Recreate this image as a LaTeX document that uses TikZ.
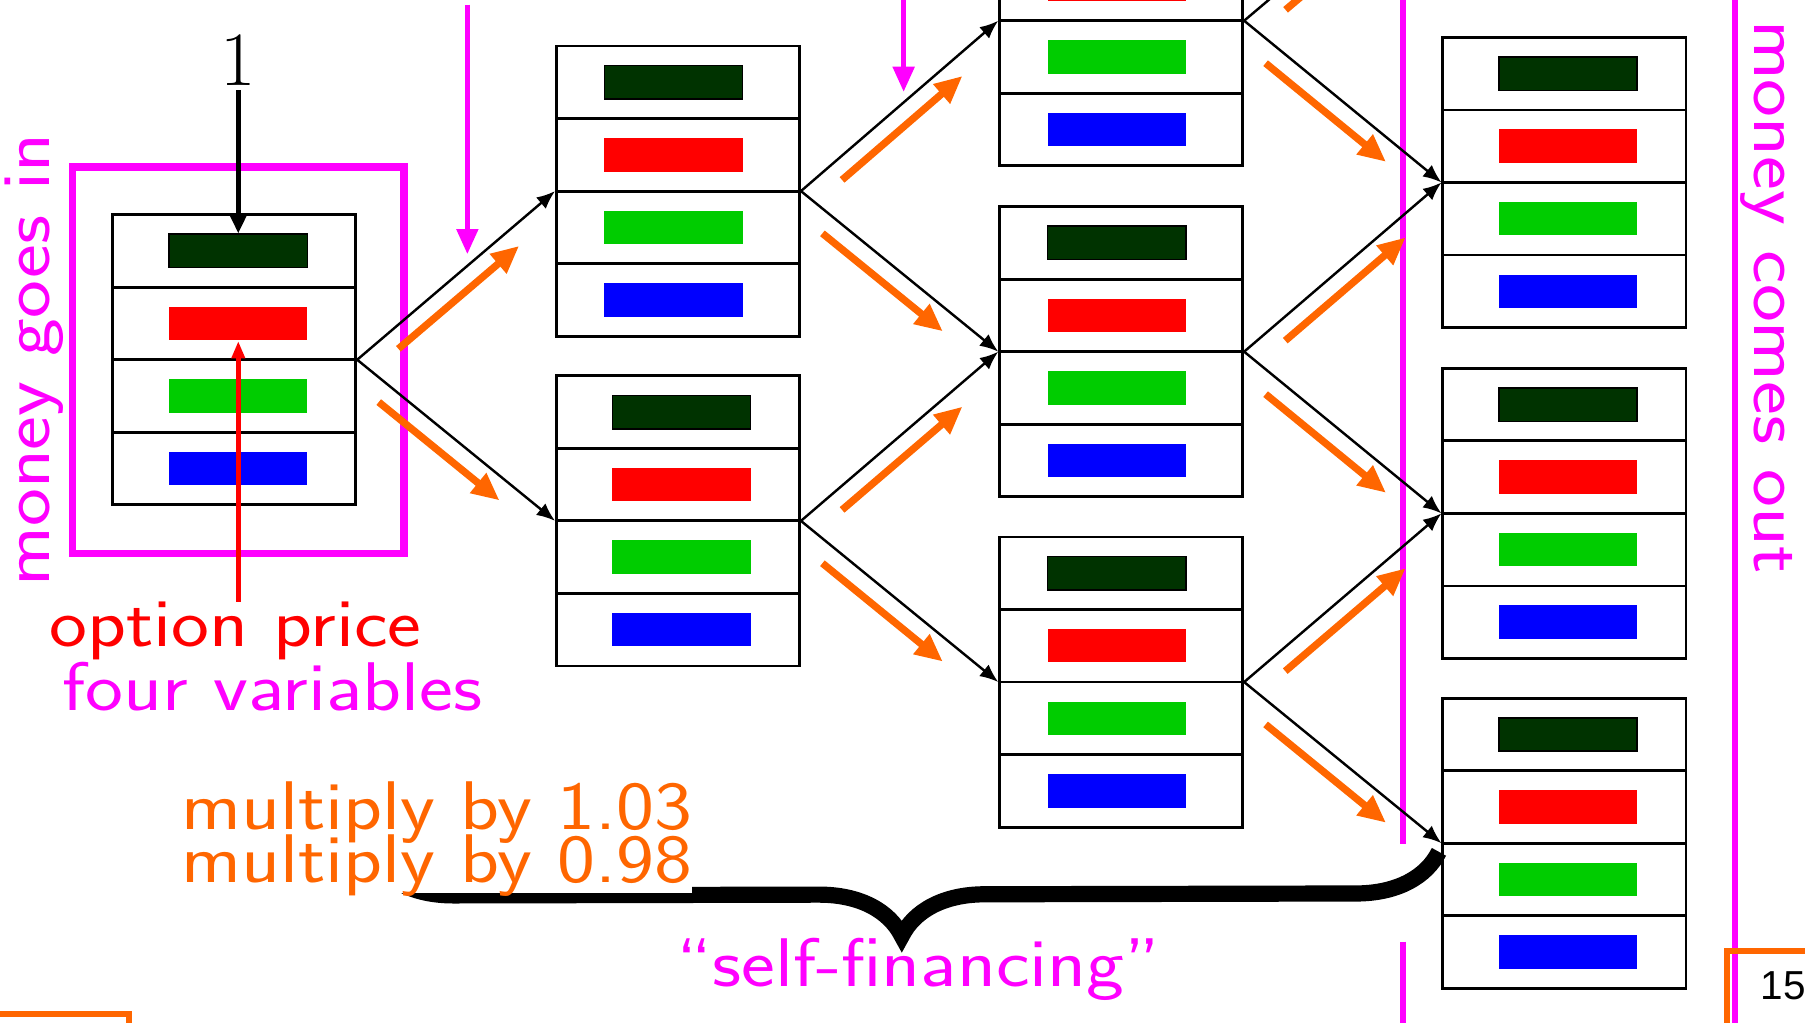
\documentclass[tikz,border=0pt]{standalone}
\usepackage{fontspec}
\usepackage{tikz}
\usetikzlibrary{
    calc,
    arrows.meta,
    decorations.pathreplacing
}
\newfontfamily\slidefont{Latin Modern Sans}[FakeStretch=1.17, Ligatures=TeX]
\newfontfamily\pagefont{Liberation Sans}
\definecolor{mag}{RGB}{255,0,255}
\definecolor{orng}{RGB}{255,102,0}
\definecolor{dkgreen}{RGB}{0,51,0}
\definecolor{midgreen}{RGB}{0,204,0}
\tikzset{% one portfolio: four holdings stacked in a box
    holding/.style={minimum width=1.2cm, minimum height=0.29cm, inner sep=0pt},
    pics/portfolio/.style={code={
        \node[draw, line width=0.7pt, minimum width=2.11cm, minimum height=2.52cm, inner sep=0pt] (-box) at (0,0) {};
        \foreach \r in {-63,0,63}
            \draw[line width=0.7pt] (-105.5,\r) -- (105.5,\r);
        \node[holding, fill=dkgreen, draw=black, line width=0.4pt] (-b1) at (#1,-94.5) {};
        \node[holding, fill=red] (-b2) at (#1,-31.5) {};
        \node[holding, fill=midgreen] (-b3) at (#1,31.5) {};
        \node[holding, fill=blue] (-b4) at (#1,94.5) {};
    }},
    pics/portfolio/.default=0
}

\begin{document}
\begin{tikzpicture}[
            x=0.01cm, y=-0.01cm,
            branch/.style={line width=0.6pt, -{Latex[length=1.6mm, width=1.3mm]}},
            drift/.style={draw=orng, line width=1.8pt, -{Triangle[length=2.4mm, width=2.1mm]}},
            inflow/.style={draw=mag, line width=1.4pt, -{Triangle[length=2.2mm, width=1.8mm]}},
            divider/.style={draw=mag, line width=1.6pt},
            words/.style={font=\slidefont\fontsize{17}{20}\selectfont, inner sep=0pt},
            slideframe/.style={draw=orng, line width=1.5pt}
        ]
        \useasboundingbox (0,0) rectangle (1568,888);

        \draw[draw=mag, line width=1.8pt] (63,145) rectangle (351,481);
        \draw[divider] (1219,-5) -- (1219,733);
        \draw[divider] (1219,818) -- (1219,893);
        \draw[divider] (1507,-5) -- (1507,893);

        \foreach \n/\x/\y/\d in {p0/203.5/312.5/3.5, q1/589/166/-4, q2/589/452.5/3,
                r1/974/18/-4, r2/974/305.5/-4, r3/974/592.5/-4,
                s1/1359/158.5/3, s2/1359/446/3, s3/1359/732.5/3}
            \pic (\n) at (\x,\y) {portfolio=\d};
        \coordinate (s0) at (1254,-128.5);

        % the tree of trading dates
        \foreach \a/\b in {p0/q1, p0/q2, q1/r1, q1/r2, q2/r2, q2/r3, r1/s1, r2/s1, r2/s2, r3/s2, r3/s3}
            \draw[branch] (\a-box.east) -- (\b-box.west);
        \draw[branch] (r1-box.east) -- (s0);

        \foreach \a/\b in {p0/q1, q1/r1, q2/r2, r2/s1, r3/s2}
            \draw[drift] ($(\a-box.east)!0.15!(\b-box.west)+(10,12.5)$) -- ($(\a-box.east)!0.76!(\b-box.west)+(10,12.5)$);
        \draw[drift] ($(r1-box.east)!0.15!(s0)+(10,12.5)$) -- ($(r1-box.east)!0.76!(s0)+(10,12.5)$);
        \foreach \a/\b in {p0/q2, q1/r2, q2/r3, r1/s1, r2/s2, r3/s3}
            \draw[drift] ($(\a-box.east)!0.17!(\b-box.west)+(-10.5,13)$) -- ($(\a-box.east)!0.78!(\b-box.west)+(-10.5,13)$);

        \coordinate (in1) at (406,4);
        \coordinate (in1e) at (406,221);
        \coordinate (in2) at (785,-5);
        \coordinate (in2e) at (785,80);
        \draw[inflow] (in1) -- (in1e);
        \draw[inflow] (in2) -- (in2e);

        \node[font=\rmfamily\fontsize{19}{22}\selectfont, inner sep=1pt, anchor=base] (one) at (207,74) {1};
        \draw[line width=1.1pt, -{Triangle[length=1.6mm, width=1.4mm]}] (one.south) -- (p0-b1.north);

        \node[words, text=red, anchor=base] (oprice) at (204.5,562) {option price};
        \node[words, text=mag, anchor=base] (fourvar) at (236.5,617) {four variables};
        \draw[red, line width=1.1pt, -{Triangle[length=1.5mm, width=1.1mm]}] (p0-b2.south |- oprice.north) -- (p0-b2.south);

        \node[words, text=mag, rotate=90, anchor=base] (goesin) at (43,313) {money goes in};
        \node[words, text=mag, rotate=-90, anchor=base] (comesout) at (1524,258) {money comes out};

        \draw[line width=4pt, decorate, decoration={brace, amplitude=0.72cm, aspect=0.503}] (1250,740) -- (322,742);
        \node[words, text=orng, fill=white, text depth=0.09cm, anchor=base west] (mult2) at (157,767) {multiply by 0.98};
        \node[words, text=orng, anchor=base west] (mult1) at (157,721) {multiply by 1.03};
        \node[words, text=mag, anchor=base] (selffin) at (798,857) {``self-financing''};

        \draw[slideframe] (1500,900) |- (1580,826);
        \draw[slideframe] (-10,881) -| (112,900);
        \node[font=\pagefont\fontsize{10}{12}\selectfont, inner sep=0pt] (pageno) at (1549,856) {15};
    \end{tikzpicture}
\end{document}
